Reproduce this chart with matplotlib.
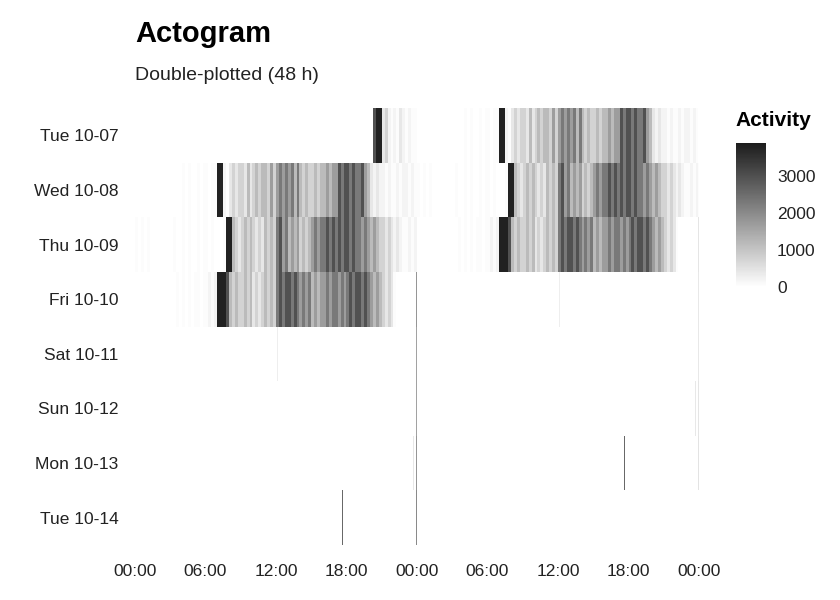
import numpy as np
import matplotlib
matplotlib.use("Agg")
import matplotlib.pyplot as plt
from matplotlib.colors import LinearSegmentedColormap

plt.rcParams["font.family"] = ["Liberation Sans", "DejaVu Sans"]

days = ["10-07", "10-08", "10-09", "10-10", "10-11", "10-12", "10-13", "10-14", "10-15"]
row_labels = ["Tue 10-07", "Wed 10-08", "Thu 10-09", "Fri 10-10", "Sat 10-11",
              "Sun 10-12", "Mon 10-13", "Tue 10-14"]
# activity level per 15 min (digit code 0-9), hours 0..23, one group per hour
z = "0000"
levels_15min = {
    "10-07": z * 20 + "0899" + "3421" + "2132" + "1211",
    "10-08": z * 4 + "1010" "0101" "1011" "9921" "3434" "4353" "4545" "5464" "6767" "6757"
             "5454" "4545" "5656" "6878" "8787" "7865" "3232" "2121" "1212" "2121",
    "10-09": "1010" "1000" "0000" "0100" "1010" "0101" "1010" "0019" "9543" "4545" "4343" "5454"
             "7867" "5656" "4545" "6767" "7878" "7878" "8787" "7676" "5654" "4343" "2321" "1212",
    "10-10": z * 3 + "0010" "1010" "1101" "1212" "9998" "5454" "4545" "3434" "5454" "7878" "8787"
             "6767" "5656" "6767" "7676" "7878" "8787" "6565" "4343" "1000" "0000",
    "10-11": z * 24, "10-12": z * 24, "10-13": z * 24, "10-14": z * 24, "10-15": z * 24,
}
# activity value for each digit code
code_values = [0, 50, 190, 420, 750, 1170, 1690, 2300, 3000, 3800]
# isolated spikes: (day, hour, activity)
spikes = [("10-10", 23.95, 1800), ("10-11", 23.95, 1600), ("10-12", 23.95, 1600),
          ("10-13", 23.95, 1800), ("10-14", 23.95, 2000), ("10-11", 12.1, 300),
          ("10-13", 23.7, 400), ("10-14", 17.65, 2600)]

res = 5  # minutes per bin
nb = 24 * 60 // res
daily = {}
for d in days:
    v = np.array([code_values[int(c)] for c in levels_15min[d]], float)
    daily[d] = np.repeat(v, 15 // res)
for d, h, a in spikes:
    i = min(int(h * 60 / res), nb - 1)
    daily[d][i] = max(daily[d][i], a)

img = np.array([np.concatenate([daily[days[i]], daily[days[i + 1]]]) for i in range(len(row_labels))])
# right-edge lines are faint in the reference
img[:, -1] *= 0.25

W, H = 840, 600
fig = plt.figure(figsize=(8.4, 6), dpi=100)
ax = fig.add_axes([127 / W, 1 - 545 / H, 580 / W, 437 / H])
cmap = LinearSegmentedColormap.from_list("g", ["#ffffff", "#1c1c1c"])
xe = np.linspace(0, 48, 2 * nb + 1)
ye = np.arange(len(row_labels) + 1)
mesh = ax.pcolormesh(xe, ye, img, cmap=cmap, vmin=0, vmax=3900, shading="flat")
ax.set_ylim(len(row_labels), 0)
ax.set_xlim(-0.68, 48.68)
ax.set_yticks(np.arange(len(row_labels)) + 0.5)
ax.set_yticklabels(row_labels)
ax.set_xticks(np.arange(0, 49, 6))
ax.set_xticklabels(["00:00", "06:00", "12:00", "18:00"] * 2 + ["00:00"])
ax.tick_params(length=0, labelsize=12.5, colors="#222222", pad=6)
ax.tick_params(axis="x", pad=14)
for s in ax.spines.values():
    s.set_visible(False)

fig.text(135 / W, 1 - 34 / H, "Actogram", fontsize=21, fontweight="bold", va="center")
fig.text(135 / W, 1 - 76 / H, "Double-plotted (48 h)", fontsize=14, va="center", color="#222222")

cax = fig.add_axes([736 / W, 1 - 287 / H, 30 / W, 144 / H])
cb = fig.colorbar(mesh, cax=cax, ticks=[0, 1000, 2000, 3000])
cb.outline.set_visible(False)
cax.tick_params(length=0, labelsize=12.5, colors="#222222", pad=8)
fig.text(735 / W, 1 - 121 / H, "Activity", fontsize=15, fontweight="bold", va="center")

fig.savefig("out.png", dpi=100)
